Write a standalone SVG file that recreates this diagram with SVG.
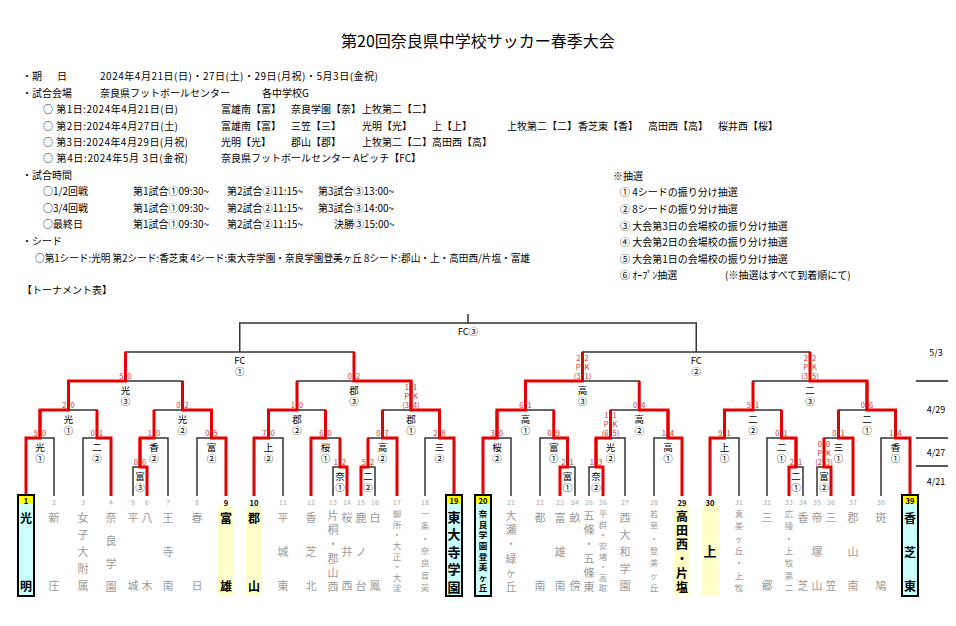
<svg xmlns="http://www.w3.org/2000/svg" width="956" height="626" viewBox="0 0 956 626">
<style>
text{font-family:"Noto Sans CJK JP","Noto Sans",sans-serif;dominant-baseline:central}
.t{font-size:16px;text-anchor:middle;fill:#000}
.h{font-size:10px;fill:#000}
.k{fill:none;stroke:#333;stroke-width:1.5}
.r{fill:none;stroke:#e60000;stroke-width:3}
.lb{font-size:9.5px;text-anchor:middle;fill:#000}
.sc{font-size:7.5px;fill:#cc3333}
.n{font-size:7px;fill:#aaa;text-anchor:middle}
.nb{font-size:7.5px;fill:#000;font-weight:700;text-anchor:middle}
.g{font-size:11px;fill:#9a9a9a;text-anchor:middle}
.gs{font-size:8.5px;fill:#9a9a9a;text-anchor:middle}
.b{font-size:12px;fill:#000;font-weight:700;text-anchor:middle}
.bs{font-size:8.5px;fill:#000;font-weight:700;text-anchor:middle}
.bx{fill:#ccffff;stroke:#000;stroke-width:2}
.yc{fill:#ffff00}
.ly{fill:#ffffcc}
.dt{font-size:9px;text-anchor:middle;fill:#000}
.dl{stroke:#222;stroke-width:1.5}
.e{text-anchor:end}
</style>
<rect width="956" height="626" fill="#fff"/>
<g id="header">
<text class="t" x="478" y="40">第20回奈良県中学校サッカー春季大会</text>
<text class="h" y="75"><tspan x="22">・期</tspan><tspan x="57">日</tspan></text>
<text class="h" x="100" y="75" textLength="278" lengthAdjust="spacing">2024年4月21日(日)・27日(土)・29日(月祝)・5月3日(金祝)</text>
<text class="h" x="22" y="92">・試合会場</text>
<text class="h" x="100" y="92">奈良県フットボールセンター</text>
<text class="h" x="262" y="92">各中学校G</text>
<text class="h" x="43" y="108" textLength="135" lengthAdjust="spacing">○ 第1日:2024年4月21日(日)</text>
<text class="h" x="221" y="108">富雄南【富】</text>
<text class="h" x="291" y="108">奈良学園【奈】</text>
<text class="h" x="362" y="108">上牧第二【二】</text>
<text class="h" x="43" y="125" textLength="135" lengthAdjust="spacing">○ 第2日:2024年4月27日(土)</text>
<text class="h" x="221" y="125">富雄南【富】</text>
<text class="h" x="291" y="125">三笠【三】</text>
<text class="h" x="362" y="125">光明【光】</text>
<text class="h" x="432" y="125">上【上】</text>
<text class="h" x="507" y="125">上牧第二【二】</text>
<text class="h" x="578" y="125">香芝東【香】</text>
<text class="h" x="648" y="125">高田西【高】</text>
<text class="h" x="718" y="125">桜井西【桜】</text>
<text class="h" x="43" y="141" textLength="145" lengthAdjust="spacing">○ 第3日:2024年4月29日(月祝)</text>
<text class="h" x="221" y="141">光明【光】</text>
<text class="h" x="291" y="141">郡山【郡】</text>
<text class="h" x="362" y="141">上牧第二【二】</text>
<text class="h" x="432" y="141">高田西【高】</text>
<text class="h" x="43" y="157" textLength="145" lengthAdjust="spacing">○ 第4日:2024年5月 3日(金祝)</text>
<text class="h" x="221" y="157">奈良県フットボールセンター Aピッチ【FC】</text>
<text class="h" x="22" y="174">・試合時間</text>
<text class="h" x="43" y="190">○1/2回戦</text>
<text class="h" x="133" y="190">第1試合①09:30~</text>
<text class="h" x="227" y="190">第2試合②11:15~</text>
<text class="h" x="318" y="190">第3試合③13:00~</text>
<text class="h" x="43" y="207">○3/4回戦</text>
<text class="h" x="133" y="207">第1試合①09:30~</text>
<text class="h" x="227" y="207">第2試合②11:15~</text>
<text class="h" x="318" y="207">第3試合③14:00~</text>
<text class="h" x="43" y="223">○最終日</text>
<text class="h" x="133" y="223">第1試合①09:30~</text>
<text class="h" x="227" y="223">第2試合②11:15~</text>
<text class="h" x="334" y="223">決勝③15:00~</text>
<text class="h" x="22" y="240">・シード</text>
<text class="h" x="35" y="257" textLength="495" lengthAdjust="spacingAndGlyphs">○第1シード:光明 第2シード:香芝東 4シード:東大寺学園・奈良学園登美ヶ丘 8シード:郡山・上・高田西/片塩・富雄</text>
<text class="h" x="22" y="289">【トーナメント表】</text>
<text class="h" x="613" y="175">※抽選</text>
<text class="h" x="620" y="191">① 4シードの振り分け抽選</text>
<text class="h" x="620" y="208">② 8シードの振り分け抽選</text>
<text class="h" x="620" y="225">③ 大会第3日の会場校の振り分け抽選</text>
<text class="h" x="620" y="241">④ 大会第2日の会場校の振り分け抽選</text>
<text class="h" x="620" y="258">⑤ 大会第1日の会場校の振り分け抽選</text>
<text class="h" x="620" y="274">⑥ ｵｰﾌﾟﾝ抽選</text>
<text class="h" x="725" y="274">(※抽選はすべて到着順にて)</text>
</g>
<g id="dates">
<text class="dt" x="936" y="352">5/3</text>
<text class="dt" x="936" y="409">4/29</text>
<text class="dt" x="936" y="452">4/27</text>
<text class="dt" x="936" y="481">4/21</text>
<path class="dl" d="M916 381H948M916 438H948M916 466H948"/>
</g>
<g id="highlights">
<rect class="ly" x="218" y="506" width="16" height="90"/>
<rect class="ly" x="246" y="506" width="16" height="90"/>
<rect class="ly" x="674" y="506" width="16" height="90"/>
<rect class="ly" x="702" y="506" width="17" height="90"/>
</g>
<g id="connectors">
<path class="k" d="M26 496V438H54V496"/>
<path class="k" d="M83 496V438H111V496"/>
<path class="k" d="M133 496V467H147V496"/>
<path class="k" d="M140 467V438H168V496"/>
<path class="k" d="M197 496V438H226V496"/>
<path class="k" d="M40 438V410H97V438"/>
<path class="k" d="M154 438V410H211.5V438"/>
<path class="k" d="M68.5 410V381H182.5V410"/>
<path class="k" d="M125.5 381V352H354V381"/>
<path class="k" d="M333 496V467H347V496"/>
<path class="k" d="M361 496V467H375V496"/>
<path class="k" d="M254 496V438H283V496"/>
<path class="k" d="M311 496V438H340V467"/>
<path class="k" d="M368 467V438H397V496"/>
<path class="k" d="M425 496V438H454V496"/>
<path class="k" d="M268.5 438V410H325.5V438"/>
<path class="k" d="M382.5 438V410H439.5V438"/>
<path class="k" d="M297 410V381H411V410"/>
<path class="k" d="M560 496V467H575V496"/>
<path class="k" d="M589 496V467H603V496"/>
<path class="k" d="M483 496V438H511V496"/>
<path class="k" d="M540 496V438H567.5V467"/>
<path class="k" d="M596 467V438H625V496"/>
<path class="k" d="M654 496V438H682V496"/>
<path class="k" d="M497 438V410H553.75V438"/>
<path class="k" d="M610.5 438V410H668V438"/>
<path class="k" d="M525.5 410V381H639.25V410"/>
<path class="k" d="M582.5 381V352H810V381"/>
<path class="k" d="M789 496V467H803V496"/>
<path class="k" d="M817 496V467H831V496"/>
<path class="k" d="M710 496V438H739V496"/>
<path class="k" d="M767 496V438H796V467"/>
<path class="k" d="M824 467V438H853V496"/>
<path class="k" d="M881 496V438H910V496"/>
<path class="k" d="M724.5 438V410H781.5V438"/>
<path class="k" d="M838.5 438V410H895.5V438"/>
<path class="k" d="M753 410V381H867V410"/>
<path class="k" d="M239.75 352V323H696.25V352M468 323V314"/>
<path class="r" d="M26 496V438H40V410"/>
<path class="r" d="M111 496V438H97V410"/>
<path class="r" d="M147 496V467H140V438"/>
<path class="r" d="M140 467V438H154V410"/>
<path class="r" d="M226 496V438H211.5V410"/>
<path class="r" d="M40 438V410H68.5V381"/>
<path class="r" d="M211.5 438V410H182.5V381"/>
<path class="r" d="M68.5 410V381H125.5V352"/>
<path class="r" d="M347 496V467H340V438"/>
<path class="r" d="M361 496V467H368V438"/>
<path class="r" d="M254 496V438H268.5V410"/>
<path class="r" d="M311 496V438H325.5V410"/>
<path class="r" d="M397 496V438H382.5V410"/>
<path class="r" d="M454 496V438H439.5V410"/>
<path class="r" d="M268.5 438V410H297V381"/>
<path class="r" d="M439.5 438V410H411V381"/>
<path class="r" d="M411 410V381H354V352"/>
<path class="r" d="M560 496V467H567.5V438"/>
<path class="r" d="M603 496V467H596V438"/>
<path class="r" d="M483 496V438H497V410"/>
<path class="r" d="M567.5 467V438H553.75V410"/>
<path class="r" d="M596 467V438H610.5V410"/>
<path class="r" d="M682 496V438H668V410"/>
<path class="r" d="M497 438V410H525.5V381"/>
<path class="r" d="M668 438V410H639.25V381"/>
<path class="r" d="M525.5 410V381H582.5V352"/>
<path class="r" d="M789 496V467H796V438"/>
<path class="r" d="M831 496V467H824V438"/>
<path class="r" d="M710 496V438H724.5V410"/>
<path class="r" d="M796 467V438H781.5V410"/>
<path class="r" d="M853 496V438H838.5V410"/>
<path class="r" d="M910 496V438H895.5V410"/>
<path class="r" d="M724.5 438V410H753V381"/>
<path class="r" d="M895.5 438V410H867V381"/>
<path class="r" d="M867 410V381H810V352"/>
</g>
<g id="matches">
<g id="m-final"><text class="lb" x="468" y="331">FC③</text></g>
<g id="m-sf1"><text class="lb" x="239.75" y="360">FC<tspan x="239.75" y="371">①</tspan></text></g>
<g id="m-sf2"><text class="lb" x="696.25" y="360">FC<tspan x="696.25" y="371">②</tspan></text></g>
<g id="m1"><text class="lb" x="40" y="447">光<tspan x="40" y="458">①</tspan></text><text class="sc" y="432"><tspan class="e" x="38">9</tspan><tspan x="42">0</tspan></text></g>
<g id="m2"><text class="lb" x="97" y="447">二<tspan x="97" y="458">②</tspan></text><text class="sc" y="432"><tspan class="e" x="95">0</tspan><tspan x="99">1</tspan></text></g>
<g id="m3"><text class="lb" x="140" y="476">富<tspan x="140" y="487">③</tspan></text><text class="sc" y="461"><tspan class="e" x="138">0</tspan><tspan x="142">6</tspan></text></g>
<g id="m4"><text class="lb" x="154" y="447">香<tspan x="154" y="458">②</tspan></text><text class="sc" y="432"><tspan class="e" x="152">1</tspan><tspan x="156">0</tspan></text></g>
<g id="m5"><text class="lb" x="211.5" y="447">富<tspan x="211.5" y="458">②</tspan></text><text class="sc" y="432"><tspan class="e" x="209.5">0</tspan><tspan x="213.5">5</tspan></text></g>
<g id="m6"><text class="lb" x="68.5" y="419">光<tspan x="68.5" y="430">①</tspan></text><text class="sc" y="404"><tspan class="e" x="66.5">2</tspan><tspan x="70.5">0</tspan></text></g>
<g id="m7"><text class="lb" x="182.5" y="419">光<tspan x="182.5" y="430">②</tspan></text><text class="sc" y="404"><tspan class="e" x="180.5">0</tspan><tspan x="184.5">2</tspan></text></g>
<g id="m8"><text class="lb" x="125.5" y="390">光<tspan x="125.5" y="401">③</tspan></text><text class="sc" y="375"><tspan class="e" x="123.5">5</tspan><tspan x="127.5">0</tspan></text></g>
<g id="m9"><text class="lb" x="340" y="476">奈<tspan x="340" y="487">①</tspan></text><text class="sc" y="461"><tspan class="e" x="338">1</tspan><tspan x="342">2</tspan></text></g>
<g id="m10"><text class="lb" x="368" y="476">二<tspan x="368" y="487">②</tspan></text><text class="sc" y="461"><tspan class="e" x="366">5</tspan><tspan x="370">2</tspan></text></g>
<g id="m11"><text class="lb" x="268.5" y="447">上<tspan x="268.5" y="458">②</tspan></text><text class="sc" y="432"><tspan class="e" x="266.5">7</tspan><tspan x="270.5">0</tspan></text></g>
<g id="m12"><text class="lb" x="325.5" y="447">桜<tspan x="325.5" y="458">①</tspan></text><text class="sc" y="432"><tspan class="e" x="323.5">6</tspan><tspan x="327.5">0</tspan></text></g>
<g id="m13"><text class="lb" x="382.5" y="447">高<tspan x="382.5" y="458">②</tspan></text><text class="sc" y="432"><tspan class="e" x="380.5">0</tspan><tspan x="384.5">7</tspan></text></g>
<g id="m14"><text class="lb" x="439.5" y="447">三<tspan x="439.5" y="458">②</tspan></text><text class="sc" y="432"><tspan class="e" x="437.5">2</tspan><tspan x="441.5">8</tspan></text></g>
<g id="m15"><text class="lb" x="297" y="419">郡<tspan x="297" y="430">②</tspan></text><text class="sc" y="404"><tspan class="e" x="295">1</tspan><tspan x="299">0</tspan></text></g>
<g id="m16"><text class="lb" x="411" y="419">郡<tspan x="411" y="430">①</tspan></text><text class="sc"><tspan class="e" x="409" y="386">1</tspan><tspan x="413" y="386">1</tspan><tspan class="e" x="409" y="395">P</tspan><tspan x="413" y="395">K</tspan><tspan class="e" x="409" y="404">(3</tspan><tspan x="413" y="404">4)</tspan></text></g>
<g id="m17"><text class="lb" x="354" y="390">郡<tspan x="354" y="401">③</tspan></text><text class="sc" y="375"><tspan class="e" x="352">0</tspan><tspan x="356">2</tspan></text></g>
<g id="m18"><text class="lb" x="567.5" y="476">富<tspan x="567.5" y="487">①</tspan></text><text class="sc" y="461"><tspan class="e" x="565.5">2</tspan><tspan x="569.5">1</tspan></text></g>
<g id="m19"><text class="lb" x="596" y="476">奈<tspan x="596" y="487">②</tspan></text><text class="sc" y="461"><tspan class="e" x="594">1</tspan><tspan x="598">3</tspan></text></g>
<g id="m20"><text class="lb" x="497" y="447">桜<tspan x="497" y="458">②</tspan></text><text class="sc" y="432"><tspan class="e" x="495">3</tspan><tspan x="499">0</tspan></text></g>
<g id="m21"><text class="lb" x="553.75" y="447">富<tspan x="553.75" y="458">①</tspan></text><text class="sc" y="432"><tspan class="e" x="551.75">0</tspan><tspan x="555.75">9</tspan></text></g>
<g id="m22"><text class="lb" x="610.5" y="447">光<tspan x="610.5" y="458">②</tspan></text><text class="sc"><tspan class="e" x="608.5" y="414">1</tspan><tspan x="612.5" y="414">1</tspan><tspan class="e" x="608.5" y="423">P</tspan><tspan x="612.5" y="423">K</tspan><tspan class="e" x="608.5" y="432">(6</tspan><tspan x="612.5" y="432">5)</tspan></text></g>
<g id="m23"><text class="lb" x="668" y="447">高<tspan x="668" y="458">①</tspan></text><text class="sc" y="432"><tspan class="e" x="666">1</tspan><tspan x="670">4</tspan></text></g>
<g id="m24"><text class="lb" x="525.5" y="419">高<tspan x="525.5" y="430">①</tspan></text><text class="sc" y="404"><tspan class="e" x="523.5">6</tspan><tspan x="527.5">1</tspan></text></g>
<g id="m25"><text class="lb" x="639.25" y="419">高<tspan x="639.25" y="430">②</tspan></text><text class="sc" y="404"><tspan class="e" x="637.25">0</tspan><tspan x="641.25">4</tspan></text></g>
<g id="m26"><text class="lb" x="582.5" y="390">高<tspan x="582.5" y="401">③</tspan></text><text class="sc"><tspan class="e" x="580.5" y="357">2</tspan><tspan x="584.5" y="357">2</tspan><tspan class="e" x="580.5" y="366">P</tspan><tspan x="584.5" y="366">K</tspan><tspan class="e" x="580.5" y="375">(3</tspan><tspan x="584.5" y="375">1)</tspan></text></g>
<g id="m27"><text class="lb" x="796" y="476">二<tspan x="796" y="487">①</tspan></text><text class="sc" y="461"><tspan class="e" x="794">2</tspan><tspan x="798">1</tspan></text></g>
<g id="m28"><text class="lb" x="824" y="476">富<tspan x="824" y="487">②</tspan></text><text class="sc"><tspan class="e" x="822" y="443">0</tspan><tspan x="826" y="443">0</tspan><tspan class="e" x="822" y="452">P</tspan><tspan x="826" y="452">K</tspan><tspan class="e" x="822" y="461">(2</tspan><tspan x="826" y="461">3)</tspan></text></g>
<g id="m29"><text class="lb" x="724.5" y="447">上<tspan x="724.5" y="458">①</tspan></text><text class="sc" y="432"><tspan class="e" x="722.5">9</tspan><tspan x="726.5">1</tspan></text></g>
<g id="m30"><text class="lb" x="781.5" y="447">二<tspan x="781.5" y="458">①</tspan></text><text class="sc" y="432"><tspan class="e" x="779.5">0</tspan><tspan x="783.5">1</tspan></text></g>
<g id="m31"><text class="lb" x="838.5" y="447">三<tspan x="838.5" y="458">①</tspan></text><text class="sc" y="432"><tspan class="e" x="836.5">0</tspan><tspan x="840.5">1</tspan></text></g>
<g id="m32"><text class="lb" x="895.5" y="447">香<tspan x="895.5" y="458">①</tspan></text><text class="sc" y="432"><tspan class="e" x="893.5">1</tspan><tspan x="897.5">4</tspan></text></g>
<g id="m33"><text class="lb" x="753" y="419">二<tspan x="753" y="430">②</tspan></text><text class="sc" y="404"><tspan class="e" x="751">5</tspan><tspan x="755">1</tspan></text></g>
<g id="m34"><text class="lb" x="867" y="419">二<tspan x="867" y="430">①</tspan></text><text class="sc" y="404"><tspan class="e" x="865">0</tspan><tspan x="869">6</tspan></text></g>
<g id="m35"><text class="lb" x="810" y="390">二<tspan x="810" y="401">③</tspan></text><text class="sc"><tspan class="e" x="808" y="357">2</tspan><tspan x="812" y="357">2</tspan><tspan class="e" x="808" y="366">P</tspan><tspan x="812" y="366">K</tspan><tspan class="e" x="808" y="375">(3</tspan><tspan x="812" y="375">5)</tspan></text></g>
</g>
<g id="teams">
<g id="team-1"><rect class="bx" x="18" y="495" width="16" height="101"/><rect class="yc" x="19" y="496" width="14" height="8"/><text class="nb" x="26" y="500">1</text><text class="b" x="26 26" y="517 585">光明</text></g>
<g id="team-2"><text class="n" x="54" y="502">2</text><text class="g" x="54 54" y="517 585">新庄</text></g>
<g id="team-3"><text class="n" x="83" y="502">3</text><text class="g" x="83 83 83 83 83" y="517 534 551 568 585">女子大附属</text></g>
<g id="team-4"><text class="n" x="111" y="502">4</text><text class="g" x="111 111 111 111" y="517 540 563 586">奈良学園</text></g>
<g id="team-5"><text class="n" x="133" y="502">5</text><text class="g" x="133 133" y="517 585">平城</text></g>
<g id="team-6"><text class="n" x="147" y="502">6</text><text class="g" x="147 147" y="517 585">八木</text></g>
<g id="team-7"><text class="n" x="168" y="502">7</text><text class="g" x="168 168 168" y="517 551 585">王寺南</text></g>
<g id="team-8"><text class="n" x="197" y="502">8</text><text class="g" x="197 197" y="517 585">春日</text></g>
<g id="team-9"><text class="nb" x="226" y="502">9</text><text class="b" x="226 226" y="517 585">富雄</text></g>
<g id="team-10"><text class="nb" x="254" y="502">10</text><text class="b" x="254 254" y="517 585">郡山</text></g>
<g id="team-11"><text class="n" x="283" y="502">11</text><text class="g" x="283 283 283" y="517 551 585">平城東</text></g>
<g id="team-12"><text class="n" x="311" y="502">12</text><text class="g" x="311 311 311" y="517 551 585">香芝北</text></g>
<g id="team-13"><text class="n" x="333" y="502">13</text><text class="g" x="333 333 333 333 333 333" y="515 529 543 558 572 586">片桐・郡山西</text></g>
<g id="team-14"><text class="n" x="347" y="502">14</text><text class="g" x="347 347 347" y="517 551 585">桜井西</text></g>
<g id="team-15"><text class="n" x="361" y="502">15</text><text class="g" x="361 361 361" y="517 551 585">鹿ノ台</text></g>
<g id="team-16"><text class="n" x="375" y="502">16</text><text class="g" x="375 375" y="517 585">白鳳</text></g>
<g id="team-17"><text class="n" x="397" y="502">17</text><text class="gs" x="397 397 397 397 397 397 397 397" y="513 523.5 534 545 555.5 566 576.5 587">御所・大正・大淀</text></g>
<g id="team-18"><text class="n" x="425" y="502">18</text><text class="gs" x="425 425 425 425 425 425 425" y="513 525 538 550 562 575 587">一条・奈良育英</text></g>
<g id="team-19"><rect class="bx" x="446" y="495" width="16" height="101"/><rect class="yc" x="447" y="496" width="14" height="8"/><text class="nb" x="454" y="500">19</text><text class="b" style="font-size:13px" x="454 454 454 454 454" y="516 533 551 568 586">東大寺学園</text></g>
<g id="team-20"><rect class="bx" x="475" y="495" width="16" height="101"/><rect class="yc" x="476" y="496" width="14" height="8"/><text class="nb" x="483" y="500">20</text><text class="bs" x="483 483 483 483 483 483 483 483" y="513 523.5 534 545 555.5 566 576.5 587">奈良学園登美ヶ丘</text></g>
<g id="team-21"><text class="n" x="511" y="502">21</text><text class="g" x="511 511 511 511 511 511" y="515 529 543 558 572 586">大瀬・緑ヶ丘</text></g>
<g id="team-22"><text class="n" x="540" y="502">22</text><text class="g" x="540 540" y="517 585">都南</text></g>
<g id="team-23"><text class="n" x="560" y="502">23</text><text class="g" x="560 560 560" y="517 551 585">富雄南</text></g>
<g id="team-24"><text class="n" x="575" y="502">24</text><text class="g" x="575 575" y="517 585">畝傍</text></g>
<g id="team-25"><text class="n" x="589" y="502">25</text><text class="g" x="589 589 589 589 589 589" y="515 529 543 558 572 586">五條・五條東</text></g>
<g id="team-26"><text class="n" x="603" y="502">26</text><text class="gs" x="603 603 603 603 603 603 603 603" y="513 523.5 534 545 555.5 566 576.5 587">平群・安堵・高取</text></g>
<g id="team-27"><text class="n" x="625" y="502">27</text><text class="g" x="625 625 625 625 625" y="517 534 551 568 585">西大和学園</text></g>
<g id="team-28"><text class="n" x="654" y="502">28</text><text class="gs" x="654 654 654 654 654 654 654" y="513 525 538 550 562 575 587">若草・登美ヶ丘</text></g>
<g id="team-29"><text class="nb" x="682" y="502">29</text><text class="b" x="682 682 682 682 682 682" y="515 529 543 558 572 586">高田西・片塩</text></g>
<g id="team-30"><text class="nb" x="710" y="502">30</text><text class="b" style="font-size:13px" x="710" y="550">上</text></g>
<g id="team-31"><text class="n" x="739" y="502">31</text><text class="gs" x="739 739 739 739 739 739 739" y="513 525 538 550 562 575 587">真美ヶ丘・上牧</text></g>
<g id="team-32"><text class="n" x="767" y="502">32</text><text class="g" x="767 767" y="517 585">三郷</text></g>
<g id="team-33"><text class="n" x="789" y="502">33</text><text class="gs" x="789 789 789 789 789 789 789" y="513 525 538 550 562 575 587">広陵・上牧第二</text></g>
<g id="team-34"><text class="n" x="803" y="502">34</text><text class="g" x="803 803" y="517 585">香芝</text></g>
<g id="team-35"><text class="n" x="817" y="502">35</text><text class="g" x="817 817 817" y="517 551 585">帝塚山</text></g>
<g id="team-36"><text class="n" x="831" y="502">36</text><text class="g" x="831 831" y="517 585">三笠</text></g>
<g id="team-37"><text class="n" x="853" y="502">37</text><text class="g" x="853 853 853" y="517 551 585">郡山南</text></g>
<g id="team-38"><text class="n" x="881" y="502">38</text><text class="g" x="881 881" y="517 585">斑鳩</text></g>
<g id="team-39"><rect class="bx" x="902" y="495" width="16" height="101"/><rect class="yc" x="903" y="496" width="14" height="8"/><text class="nb" x="910" y="500">39</text><text class="b" x="910 910 910" y="517 551 585">香芝東</text></g>
</g>
</svg>
